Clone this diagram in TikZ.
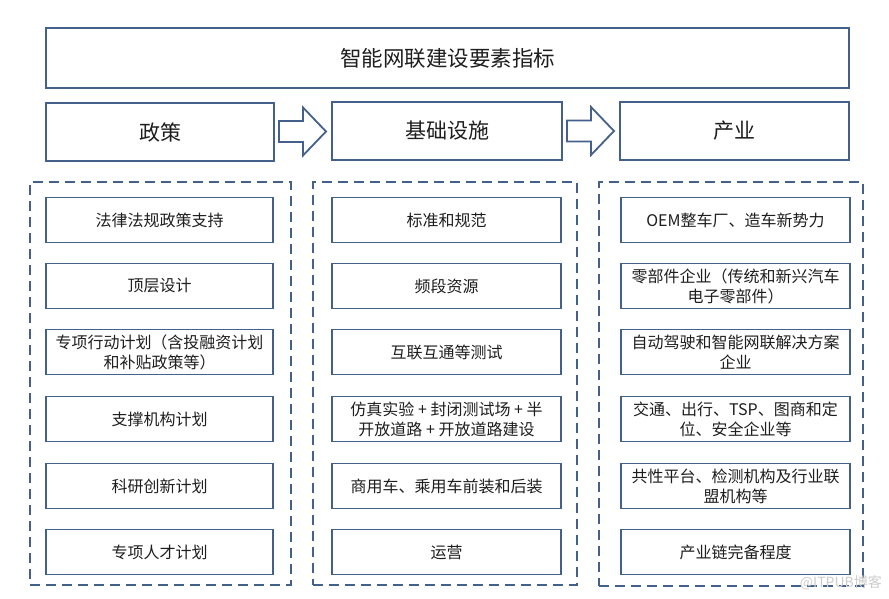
\documentclass[tikz,border=0pt]{standalone}
\usepackage{fontspec}
\setmainfont{Noto Sans CJK SC}
\usetikzlibrary{calc}
\definecolor{bord}{HTML}{44618C}
\definecolor{txt}{HTML}{1E1E1E}
\tikzset{
  box/.style={draw=bord, line width=1.8pt, fill=white, rectangle, inner sep=0pt, align=center, text=txt},
  titlebox/.style={box, minimum width=803pt, minimum height=60pt, font=\fontsize{21.5}{25}\selectfont},
  headbox/.style={box, minimum width=228pt, minimum height=58pt, font=\fontsize{21}{25}\selectfont},
  itembox/.style={box, minimum width=228pt, minimum height=45pt, font=\fontsize{16}{20}\selectfont},
  dashbox/.style={draw=bord, line width=1.8pt, dash pattern=on 10pt off 6pt},
  blockarrow/.style={draw=bord, line width=1.8pt, fill=white, line join=miter}
}
\begin{document}
\begin{tikzpicture}[x=1pt,y=-1pt]
\useasboundingbox (0,0) rectangle (889,599);
% title
\node[titlebox] (title) at (447.5,58) {智能网联建设要素指标};
% headers
\node[headbox, minimum width=228pt] (h1) at (160,132) {政策};
\node[headbox, minimum width=230pt] (h2) at (447,131) {基础设施};
\node[headbox, minimum width=229pt] (h3) at (734.5,131) {产业};
% arrows
\coordinate (a1) at ($(h1.east)!0.5!(h2.west)$);
\coordinate (a2) at ($(h2.east)!0.5!(h3.west)$);
\foreach \a in {a1,a2}{
  \draw[blockarrow] ([shift={(-24,-10.5)}]\a) -- ([shift={(0,-10.5)}]\a) -- ([shift={(0,-24)}]\a)
    -- ([shift={(23,0)}]\a) -- ([shift={(0,24)}]\a) -- ([shift={(0,10.5)}]\a)
    -- ([shift={(-24,10.5)}]\a) -- cycle;
}
% dashed groups
\node[dashbox, rectangle, minimum width=261pt, minimum height=403pt, inner sep=0pt] (g1) at (160.5,383.5) {};
\node[dashbox, rectangle, minimum width=264pt, minimum height=403pt, inner sep=0pt] (g2) at (445,383.5) {};
\node[dashbox, rectangle, minimum width=264pt, minimum height=404pt, inner sep=0pt] (g3) at (731,384) {};
% left column
\node[itembox, minimum width=227pt] (l1) at (159.5,220) {法律法规政策支持};
\node[itembox, minimum width=227pt] (l2) at (159.5,286) {顶层设计};
\node[itembox, minimum width=227pt] (l3) at (159.5,352) {专项行动计划（含投融资计划\\和补贴政策等）};
\node[itembox, minimum width=227pt] (l4) at (159.5,419) {支撑机构计划};
\node[itembox, minimum width=227pt] (l5) at (159.5,486) {科研创新计划};
\node[itembox, minimum width=227pt] (l6) at (159.5,552) {专项人才计划};
% middle column
\node[itembox, minimum width=229pt] (m1) at (446.5,220) {标准和规范};
\node[itembox, minimum width=229pt] (m2) at (446.5,286) {频段资源};
\node[itembox, minimum width=229pt] (m3) at (446.5,352) {互联互通等测试};
\node[itembox, minimum width=229pt] (m4) at (446.5,419) {仿真实验 + 封闭测试场 + 半\\开放道路 + 开放道路建设};
\node[itembox, minimum width=229pt] (m5) at (446.5,486) {商用车、乘用车前装和后装};
\node[itembox, minimum width=229pt] (m6) at (446.5,552) {运营};
% right column
\node[itembox, minimum width=229pt] (r1) at (735.5,220) {OEM整车厂、造车新势力};
\node[itembox, minimum width=229pt] (r2) at (735.5,286) {零部件企业（传统和新兴汽车\\电子零部件）};
\node[itembox, minimum width=229pt] (r3) at (735.5,352) {自动驾驶和智能网联解决方案\\企业};
\node[itembox, minimum width=229pt] (r4) at (735.5,419) {交通、出行、TSP、图商和定\\位、安全企业等};
\node[itembox, minimum width=229pt] (r5) at (735.5,486) {共性平台、检测机构及行业联\\盟机构等};
\node[itembox, minimum width=229pt] (r6) at (735.5,552) {产业链完备程度};
% watermark
\node[text=black!20, font=\fontsize{14}{16}\selectfont, anchor=east, inner sep=0pt] (wm) at (882,583) {@ITPUB博客};
\end{tikzpicture}
\end{document}
